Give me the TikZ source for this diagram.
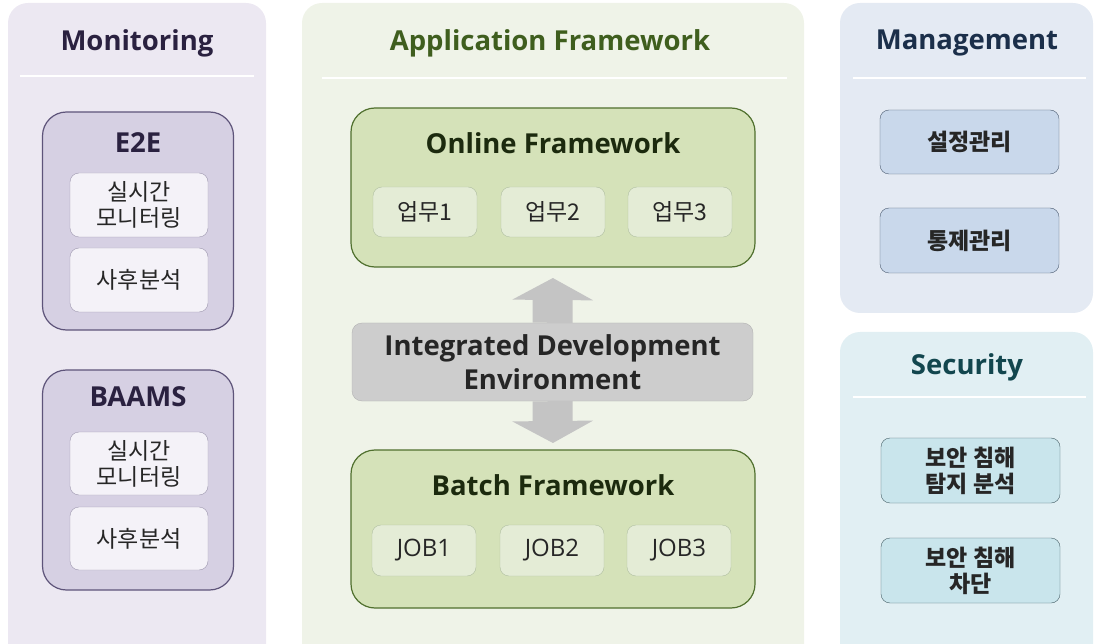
\documentclass[tikz,border=0pt]{standalone}
\usepackage{fontspec}
\setmainfont{Open Sans}
\newfontfamily\kr{Noto Sans CJK KR}
\usepackage{xcolor}
\usetikzlibrary{arrows.meta}

\definecolor{monbg}{HTML}{ECE8F2}
\definecolor{mongrp}{HTML}{D6D0E3}
\definecolor{monline}{HTML}{5E547A}
\definecolor{monitem}{HTML}{F4F2F8}
\definecolor{montxt}{HTML}{2A2140}
\definecolor{appbg}{HTML}{EFF3E8}
\definecolor{appgrp}{HTML}{D5E2B9}
\definecolor{appline}{HTML}{50702E}
\definecolor{appitem}{HTML}{E4ECD6}
\definecolor{apptxt}{HTML}{3F5E1E}
\definecolor{grptxt}{HTML}{1C2A0E}
\definecolor{idebg}{HTML}{CDCDCD}
\definecolor{arrowgray}{HTML}{C4C4C4}
\definecolor{mgtbg}{HTML}{E4EAF3}
\definecolor{mgtitem}{HTML}{C9D8EB}
\definecolor{mgtline}{HTML}{4B5B70}
\definecolor{mgttxt}{HTML}{1B2F4A}
\definecolor{secbg}{HTML}{E1EFF3}
\definecolor{secitem}{HTML}{C9E5EC}
\definecolor{secline}{HTML}{455F66}
\definecolor{sectxt}{HTML}{12464E}

\begin{document}
\begin{tikzpicture}[x=1pt,y=-1pt,
panel/.style={rounded corners=20pt, inner sep=0, outer sep=0},
grp/.style={draw, rounded corners=24pt, line width=1.2pt, inner sep=0, outer sep=0},
box/.style={draw, rounded corners=9pt, inner sep=0, outer sep=0, align=center, text=black!85, font=\kr\fontsize{23}{26}\selectfont},
rbox/.style={box, font=\kr\bfseries\fontsize{23}{26}\selectfont},
ttl/.style={font=\bfseries\fontsize{27.5}{30}\selectfont},
sep/.style={white, line width=1.5pt},
big/.style={arrowgray, line width=40pt, -{Triangle[width=80pt,length=22pt]}}]
	\useasboundingbox (0,0) rectangle (1095,644);
	\clip (0,0) rectangle (1095,644);
	% panels
	\node[panel, fill=monbg, minimum width=258pt, minimum height=664pt] at (137,335) (mon) {};
	\node[panel, fill=appbg, minimum width=502pt, minimum height=664pt] at (553,335) (app) {};
	\node[panel, fill=mgtbg, minimum width=253pt, minimum height=310pt] at (966.5,158) (mgt) {};
	\node[panel, fill=secbg, minimum width=253pt, minimum height=340pt] at (966.5,502) (sec) {};
	\node[ttl, text=montxt] at (137,43) (mon-t) {Monitoring};
	\node[ttl, text=apptxt] at (550,43) (app-t) {Application Framework};
	\node[ttl, text=mgttxt] at (967,43) (mgt-t) {Management};
	\node[ttl, text=sectxt] at (967,367) (sec-t) {Security};
	\draw[sep] (20,76) -- (254,76);
	\draw[sep] (322,78) -- (787,78);
	\draw[sep] (853,78) -- (1086,78);
	\draw[sep] (853,397) -- (1086,397);

	% monitoring
	\node[grp, fill=mongrp, draw=monline, minimum width=191pt, minimum height=218pt] at (138,221) (e2e) {};
	\node[ttl, text=montxt] at (138,143) (e2e-t) {E2E};
	\node[box, fill=monitem, draw=monline!60, minimum width=138pt, minimum height=64pt] at (139,205) (e2e-1) {실시간\\모니터링};
	\node[box, fill=monitem, draw=monline!60, minimum width=138pt, minimum height=64pt] at (139,280) (e2e-2) {사후분석};
	\node[grp, fill=mongrp, draw=monline, minimum width=191pt, minimum height=220pt] at (138,480) (baams) {};
	\node[ttl, text=montxt] at (138,397) (baams-t) {BAAMS};
	\node[box, fill=monitem, draw=monline!60, minimum width=138pt, minimum height=63pt] at (139,463.5) (baams-1) {실시간\\모니터링};
	\node[box, fill=monitem, draw=monline!60, minimum width=138pt, minimum height=63pt] at (139,538.5) (baams-2) {사후분석};

	% application framework
	\node[grp, fill=appgrp, draw=appline, minimum width=404pt, minimum height=159pt] at (553,187.5) (online) {};
	\node[ttl, text=grptxt] at (553,143) (online-t) {Online Framework};
	\foreach \i/\x in {1/425,2/553,3/680}
		\node[box, fill=appitem, draw=appline!45, minimum width=104pt, minimum height=50pt] at (\x,212) (task\i) {업무\i};
	\node[grp, fill=appgrp, draw=appline, minimum width=404pt, minimum height=158pt] at (553,529) (batch) {};
	\node[ttl, text=grptxt] at (553,485) (batch-t) {Batch Framework};
	\foreach \i/\x in {1/424,2/552,3/679}
		\node[box, fill=appitem, draw=appline!45, minimum width=104pt, minimum height=51pt, font=\fontsize{24}{26}\selectfont] at (\x,550.5) (job\i) {JOB\i};
	\node[draw=black!30, fill=idebg, rounded corners=10pt, minimum width=401pt, minimum height=78pt, inner sep=0, align=center, text=black!85, font=\bfseries\fontsize{27.5}{34}\selectfont] at (552.5,362) (ide) {Integrated Development\\Environment};
	\draw[big, shorten >=11pt] (ide.north) -- (online.south);
	\draw[big, shorten >=7pt] (ide.south) -- (batch.north);

	% management
	\node[rbox, fill=mgtitem, draw=mgtline, minimum width=179pt, minimum height=64pt] at (969.5,142) (conf) {설정관리};
	\node[rbox, fill=mgtitem, draw=mgtline, minimum width=179pt, minimum height=65pt] at (969.5,240.5) (ctrl) {통제관리};

	% security
	\node[rbox, fill=secitem, draw=secline, minimum width=179pt, minimum height=65pt] at (970.5,470.5) (detect) {보안 침해\\탐지 분석};
	\node[rbox, fill=secitem, draw=secline, minimum width=179pt, minimum height=65pt] at (970.5,570.5) (block) {보안 침해\\차단};
\end{tikzpicture}
\end{document}
